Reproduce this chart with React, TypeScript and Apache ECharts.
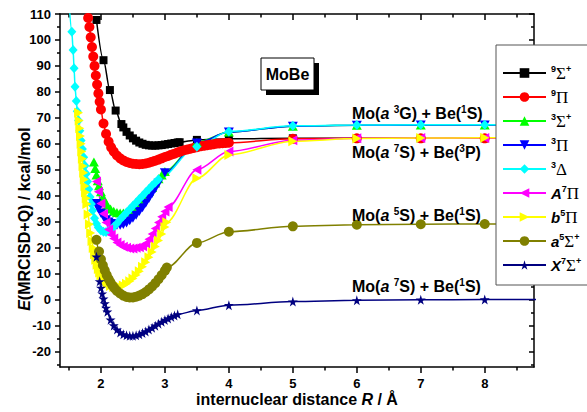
import React, { useEffect, useRef } from 'react';
import * as echarts from 'echarts';

const SANS = '"Liberation Sans", Arial, Helvetica, sans-serif';
const SERIF = '"Liberation Serif", "Times New Roman", serif';

const X_MIN = 1.36;
const X_MAX = 8.77;
const Y_MIN = -26;
const Y_MAX = 110;
const xMajorTicks = [2, 3, 4, 5, 6, 7, 8];
const xMinorTicks = [1.5, 2.5, 3.5, 4.5, 5.5, 6.5, 7.5, 8.5];
const yMajorTicks = [-20, -10, 0, 10, 20, 30, 40, 50, 60, 70, 80, 90, 100, 110];
const yMinorTicks = [-25, -15, -5, 5, 15, 25, 35, 45, 55, 65, 75, 85, 95, 105];

const stateNames = ['⁹Σ⁺', '⁹Π', '³Σ⁺', '³Π', '³Δ', 'A⁷Π', 'b⁵Π', 'a⁵Σ⁺', 'X⁷Σ⁺'];
const stateLabels = [
  '{s|9}{g|Σ}{s|+}',
  '{s|9}{g|Π}',
  '{s|3}{g|Σ}{s|+}',
  '{s|3}{g|Π}',
  '{s|3}{g|Δ}',
  '{i|A}{s|7}{g|Π}',
  '{i|b}{s|5}{g|Π}',
  '{i|a}{s|5}{g|Σ}{s|+}',
  '{i|X}{s|7}{g|Σ}{s|+}',
];
const stateColors = ['#000000', '#ff0000', '#00ff00', '#0000ff', '#00ffff', '#ff00ff', '#ffff00', '#808000', '#000080'];
const STAR = 'path://M50,0L61,35L98,35L68,57L79,91L50,70L21,91L32,57L2,35L39,35Z';
const stateSymbols = [
  'rect',
  'circle',
  'triangle',
  'path://M0,0L10,0L5,9Z',
  'diamond',
  'path://M9,0L9,10L0,5Z',
  'path://M0,0L9,5L0,10Z',
  'circle',
  STAR,
];
const stateSymbolSizes: any[] = [8, 10, [10, 9], [10, 9], [9, 10], [9, 10], [9, 10], 10, 10];

// R (Å), E (kcal/mol)
const sigma9: number[][] = [
  [1.93, 107.7], [2.04, 92.2], [2.14, 80.7], [2.23, 72.8], [2.32, 67.6], [2.35, 66.3], [2.40, 64.6], [2.45, 63.2],
  [2.50, 62.1], [2.55, 61.2], [2.60, 60.5], [2.65, 60.0], [2.70, 59.6], [2.75, 59.4], [2.80, 59.3], [2.85, 59.3],
  [2.90, 59.4], [2.95, 59.5], [3.00, 59.7], [3.05, 59.9], [3.10, 60.1], [3.15, 60.3], [3.20, 60.5], [3.23, 60.6],
  [3.50, 61.5], [4.00, 61.9], [5, 62.1], [6, 62.1], [7, 62.1], [8, 62.1], [9, 62.1],
];
const pi9: number[][] = [
  [1.78, 112], [1.80, 108.5], [1.82, 105], [1.84, 101], [1.86, 97.3], [1.88, 93.6], [1.90, 90], [1.92, 86.3],
  [1.94, 82.8], [1.96, 79.4], [1.98, 76.2], [2.00, 73.2], [2.04, 67.8], [2.08, 63.8], [2.12, 60.8], [2.16, 58.6],
  [2.20, 57.0], [2.25, 55.5], [2.30, 54.4], [2.35, 53.6], [2.40, 53.0], [2.45, 52.6], [2.50, 52.3], [2.55, 52.2],
  [2.60, 52.1], [2.65, 52.2], [2.70, 52.4], [2.75, 52.7], [2.80, 53.1], [2.85, 53.5], [2.90, 53.9], [2.95, 54.4],
  [3.00, 54.9], [3.05, 55.3], [3.10, 55.8], [3.15, 56.2], [3.20, 56.7], [3.25, 57.1], [3.30, 57.5], [3.35, 57.8],
  [3.40, 58.1], [3.45, 58.4], [3.50, 58.7], [3.55, 59.0], [3.60, 59.2], [3.65, 59.4], [3.70, 59.6], [3.75, 59.8],
  [3.80, 60.0], [3.85, 60.1], [3.90, 60.2], [3.95, 60.3], [4.00, 60.4], [5, 61.9], [6, 62.1], [7, 62.1], [8, 62.1], [9, 62.1],
];
const sigma3: number[][] = [
  [1.89, 53], [1.91, 50.5], [1.93, 48], [1.95, 45.8], [1.97, 43.8], [2.00, 41.5], [2.03, 39.5], [2.06, 37.9],
  [2.10, 36.3], [2.15, 34.9], [2.20, 34.0], [2.25, 33.5], [2.30, 33.3], [2.35, 33.3], [2.40, 33.6], [2.45, 34.2],
  [2.50, 35.0], [2.55, 36.0], [2.60, 37.2], [2.65, 38.5], [2.70, 40.0], [2.75, 41.6], [2.80, 43.2], [2.85, 44.9],
  [2.90, 46.5], [2.95, 48.0], [3.00, 49.3], [3.50, 60.5], [4.00, 64.5], [5, 66.8], [6, 67.1], [7, 67.2], [8, 67.2], [9, 67.2],
];
const pi3: number[][] = [
  [1.93, 37], [1.96, 35], [2.00, 33.2], [2.04, 31.8], [2.08, 30.7], [2.12, 29.9], [2.16, 29.3], [2.20, 28.9],
  [2.25, 28.6], [2.30, 28.6], [2.35, 28.9], [2.40, 29.5], [2.45, 30.3], [2.50, 31.3], [2.55, 32.5], [2.60, 33.9],
  [2.65, 35.4], [2.70, 37.1], [2.75, 38.9], [2.80, 40.8], [2.85, 42.8], [2.90, 44.8], [3.00, 48.8], [3.50, 60.3],
  [4.00, 64.5], [5, 66.8], [6, 67.1], [7, 67.2], [8, 67.2], [9, 67.2],
];
const delta3: number[][] = [
  [1.50, 115], [1.545, 103.2], [1.565, 96.1], [1.58, 89.1], [1.595, 82], [1.615, 76.5], [1.63, 72.5], [1.65, 69],
  [1.67, 65], [1.69, 61.3], [1.71, 58], [1.73, 54.8], [1.75, 51.5], [1.77, 48.5], [1.79, 45.5], [1.81, 42.5],
  [1.83, 39.5], [1.85, 36.8], [1.87, 34.3], [1.90, 31.3], [1.93, 29.2], [1.96, 27.7], [2.00, 26.6], [2.04, 26.1],
  [2.08, 26.0], [2.12, 26.4], [2.16, 27.1], [2.20, 28.0], [2.25, 29.3], [2.30, 30.8], [2.35, 32.2], [2.40, 33.5],
  [2.45, 34.8], [2.50, 36.1], [2.55, 37.4], [2.60, 38.7], [2.65, 40.0], [2.70, 41.3], [2.75, 42.6], [2.80, 43.9],
  [2.85, 45.1], [2.90, 46.3], [3.50, 58.9], [4.00, 64.7], [5, 66.9], [6, 67.2], [7, 67.3], [8, 67.3], [9, 67.3],
];
const A7Pi: number[][] = [
  [1.93, 45.5], [1.96, 41.5], [2.00, 37.0], [2.04, 33.0], [2.08, 29.7], [2.12, 27.0], [2.16, 25.0], [2.20, 23.5],
  [2.25, 22.0], [2.30, 21.0], [2.35, 20.3], [2.40, 19.9], [2.45, 19.7], [2.50, 19.7], [2.55, 19.9], [2.60, 20.1],
  [2.65, 20.5], [2.70, 21.6], [2.75, 23.2], [2.80, 25.2], [2.85, 27.4], [2.90, 29.7], [2.95, 31.9], [3.00, 33.9],
  [3.05, 35.6], [3.50, 50.0], [4.00, 57.0], [5, 61.4], [6, 62.1], [7, 62.2], [8, 62.2], [9, 62.2],
];
const b5Pi: number[][] = [
  [1.65, 72], [1.66, 69], [1.67, 66], [1.68, 63], [1.69, 60], [1.70, 57], [1.71, 54.2], [1.72, 51.4],
  [1.73, 48.8], [1.74, 46.2], [1.75, 43.7], [1.76, 41.3], [1.77, 39], [1.78, 36.8], [1.80, 32.8], [1.82, 29],
  [1.84, 25.6], [1.86, 22.5], [1.88, 19.8], [1.90, 17.4], [1.92, 15.3], [1.94, 13.4], [1.96, 11.8], [1.98, 10.4],
  [2.00, 9.3], [2.03, 8.0], [2.06, 7.0], [2.10, 6.0], [2.15, 5.2], [2.20, 4.8], [2.25, 4.7], [2.30, 4.9],
  [2.35, 5.4], [2.40, 6.1], [2.45, 7.0], [2.50, 8.1], [2.55, 9.4], [2.60, 10.9], [2.65, 12.6], [2.70, 14.4],
  [2.75, 16.3], [2.80, 18.3], [2.85, 20.4], [2.90, 22.7], [2.95, 25.2], [3.00, 27.9], [3.03, 29.8], [3.50, 46.7],
  [4.00, 55.7], [5, 61.0], [6, 62.0], [7, 62.2], [8, 62.3], [9, 62.3],
];
const a5Sigma: number[][] = [
  [1.93, 23], [1.97, 18.5], [2.00, 15.5], [2.03, 13.2], [2.06, 11.2], [2.09, 9.4], [2.12, 7.9], [2.15, 6.6],
  [2.18, 5.4], [2.21, 4.4], [2.25, 3.3], [2.30, 2.3], [2.35, 1.5], [2.40, 1.0], [2.45, 0.8], [2.50, 0.8],
  [2.55, 1.1], [2.60, 1.5], [2.65, 2.1], [2.70, 2.9], [2.75, 3.9], [2.80, 5.0], [2.85, 6.3], [2.90, 7.8],
  [2.95, 9.4], [3.00, 11.1], [3.03, 12.3], [3.50, 21.8], [4.00, 26.1], [5, 28.2], [6, 28.8], [7, 29.0], [8, 29.1], [9, 29.1],
];
const X7Sigma: number[][] = [
  [1.93, 16.5], [1.98, 7.0], [2.00, 4.5], [2.02, 2.3], [2.04, 0.3], [2.06, -1.5], [2.08, -3.2], [2.10, -4.7],
  [2.15, -7.8], [2.20, -10.0], [2.25, -11.6], [2.30, -12.7], [2.35, -13.4], [2.40, -13.8], [2.45, -14.0], [2.50, -14.0],
  [2.55, -13.8], [2.60, -13.4], [2.65, -12.9], [2.70, -12.3], [2.75, -11.6], [2.80, -10.9], [2.85, -10.1], [2.90, -9.3],
  [2.95, -8.6], [3.00, -7.9], [3.05, -7.3], [3.10, -6.7], [3.15, -6.2], [3.20, -5.7], [3.50, -4.2], [4.00, -2.2],
  [5, -0.8], [6, -0.3], [7, -0.1], [8, 0], [9, 0],
];
const stateData = [sigma9, pi9, sigma3, pi3, delta3, A7Pi, b5Pi, a5Sigma, X7Sigma];

const asymptoteLabels = [
  '{b|Mo(}{bi|a}{b| }{s|3}{b|G) + Be(}{s|1}{b|S)}',
  '{b|Mo(}{bi|a}{b| }{s|7}{b|S) + Be(}{s|3}{b|P)}',
  '{b|Mo(}{bi|a}{b| }{s|5}{b|S) + Be(}{s|1}{b|S)}',
  '{b|Mo(}{bi|a}{b| }{s|7}{b|S) + Be(}{s|1}{b|S)}',
];
const asymptoteLabelY = [113, 152, 215, 286];

const textRich = {
  b: { fontFamily: SANS, fontWeight: 'bold', fontSize: 16, lineHeight: 18, color: '#000' },
  bi: { fontFamily: SANS, fontWeight: 'bold', fontStyle: 'italic', fontSize: 16, lineHeight: 18, color: '#000' },
  s: { fontFamily: SANS, fontWeight: 'bold', fontSize: 10, lineHeight: 10, verticalAlign: 'top', color: '#000' },
};
const xTitleRich = {
  b: { fontFamily: SANS, fontWeight: 'bold', fontSize: 16, lineHeight: 14, color: '#000' },
  bi: { fontFamily: SANS, fontWeight: 'bold', fontStyle: 'italic', fontSize: 16, lineHeight: 14, color: '#000' },
};
const yTitleRich = {
  b: { fontFamily: SANS, fontWeight: 'bold', fontSize: 16, lineHeight: 18, color: '#000' },
  bi: { fontFamily: SANS, fontWeight: 'bold', fontStyle: 'italic', fontSize: 16, lineHeight: 18, color: '#000' },
};

export default function App() {
  const ref = useRef<HTMLDivElement>(null);
  useEffect(() => {
    document.body.style.margin = '0';
    const chart = echarts.init(ref.current!, null, { renderer: 'svg' });
    const axisLineStyle = { color: '#000', width: 1.5 };
    const xBase = { type: 'value', min: X_MIN, max: X_MAX, splitLine: { show: false } };
    const yBase = { type: 'value', min: Y_MIN, max: Y_MAX, splitLine: { show: false } };
    const tickLabel = { fontFamily: SANS, fontWeight: 'bold', fontSize: 13, color: '#000' };
    const option: any = {
      animation: false,
      backgroundColor: '#ffffff',
      grid: { left: 60, right: 53, top: 14, bottom: 45, containLabel: false, outerBoundsMode: 'none' },
      xAxis: [
        { ...xBase, position: 'bottom', axisLine: { show: true, onZero: false, lineStyle: axisLineStyle },
          axisTick: { show: true, inside: false, length: 6, customValues: xMajorTicks, lineStyle: axisLineStyle },
          axisLabel: { ...tickLabel, lineHeight: 12, margin: 10, customValues: xMajorTicks } },
        { ...xBase, position: 'bottom', axisLine: { show: false, onZero: false },
          axisTick: { show: true, inside: false, length: 3.5, customValues: xMinorTicks, lineStyle: axisLineStyle },
          axisLabel: { show: false } },
        { ...xBase, position: 'top', axisLine: { show: true, onZero: false, lineStyle: axisLineStyle },
          axisTick: { show: true, inside: true, length: 6, customValues: xMajorTicks, lineStyle: axisLineStyle },
          axisLabel: { show: false } },
        { ...xBase, position: 'top', axisLine: { show: false, onZero: false },
          axisTick: { show: true, inside: true, length: 3.5, customValues: xMinorTicks, lineStyle: axisLineStyle },
          axisLabel: { show: false } },
      ],
      yAxis: [
        { ...yBase, position: 'left', axisLine: { show: true, onZero: false, lineStyle: axisLineStyle },
          axisTick: { show: true, inside: false, length: 5, customValues: yMajorTicks, lineStyle: axisLineStyle },
          axisLabel: { ...tickLabel, margin: 9, customValues: yMajorTicks } },
        { ...yBase, position: 'left', axisLine: { show: false, onZero: false },
          axisTick: { show: true, inside: false, length: 3, customValues: yMinorTicks, lineStyle: axisLineStyle },
          axisLabel: { show: false } },
        { ...yBase, position: 'right', axisLine: { show: true, onZero: false, lineStyle: axisLineStyle },
          axisTick: { show: true, inside: true, length: 5, customValues: yMajorTicks, lineStyle: axisLineStyle },
          axisLabel: { show: false } },
        { ...yBase, position: 'right', axisLine: { show: false, onZero: false },
          axisTick: { show: true, inside: true, length: 3, customValues: yMinorTicks, lineStyle: axisLineStyle },
          axisLabel: { show: false } },
      ],
      legend: {
        orient: 'vertical',
        left: 502,
        top: 64,
        padding: 0,
        itemWidth: 43,
        itemHeight: 12,
        itemGap: 6,
        selectedMode: false,
        z: 20,
        data: stateNames,
        formatter: (name: string) => stateLabels[stateNames.indexOf(name)],
        textStyle: {
          color: '#000',
          fontSize: 14,
          lineHeight: 18,
          rich: {
            s: { fontFamily: SANS, fontWeight: 'bold', fontSize: 9, lineHeight: 10, verticalAlign: 'top', color: '#000' },
            g: { fontFamily: SERIF, fontSize: 17, lineHeight: 18, color: '#000' },
            i: { fontFamily: SANS, fontWeight: 'bold', fontStyle: 'italic', fontSize: 15, lineHeight: 18, color: '#000' },
          },
        },
      },
      graphic: [
        { type: 'rect', z: 10, shape: { x: 496, y: 45, width: 110, height: 240 }, style: { fill: '#fff', stroke: '#555', lineWidth: 1 } },
        { type: 'rect', z: 10, shape: { x: 266, y: 63, width: 53, height: 32 }, style: { fill: '#000' } },
        { type: 'rect', z: 11, shape: { x: 261, y: 58, width: 53, height: 32 }, style: { fill: '#fff', stroke: '#000', lineWidth: 1 } },
        { type: 'text', z: 12, x: 287.5, y: 74, style: { text: 'MoBe', fontFamily: SANS, fontWeight: 'bold', fontSize: 16, fill: '#000',
          align: 'center', verticalAlign: 'middle', textAlign: 'center', textVerticalAlign: 'middle' } },
        ...asymptoteLabels.map((t, i) => ({
          type: 'text', z: 12, x: 352, y: asymptoteLabelY[i],
          style: { text: t, rich: textRich, align: 'left', verticalAlign: 'middle', textAlign: 'left', textVerticalAlign: 'middle' },
        })),
        { type: 'text', z: 12, x: 297, y: 399.5,
          style: { text: '{b|internuclear distance }{bi|R}{b| / Å}', rich: xTitleRich, align: 'center', verticalAlign: 'middle', textAlign: 'center', textVerticalAlign: 'middle' } },
        { type: 'text', z: 12, x: 24, y: 219, rotation: Math.PI / 2,
          style: { text: '{bi|E}{b|(MRCISD+Q) / kcal/mol}', rich: yTitleRich, align: 'center', verticalAlign: 'middle', textAlign: 'center', textVerticalAlign: 'middle' } },
      ],
      series: stateNames.map((name, i) => ({
        type: 'line',
        name,
        data: stateData[i],
        xAxisIndex: 0,
        yAxisIndex: 0,
        symbol: stateSymbols[i],
        symbolSize: stateSymbolSizes[i],
        showSymbol: true,
        smooth: 0.3,
        smoothMonotone: 'x',
        clip: true,
        silent: true,
        lineStyle: { color: stateColors[i], width: 1.5 },
        itemStyle: { color: stateColors[i] },
        emphasis: { disabled: true },
        z: 2,
      })),
    };
    chart.setOption(option);
    return () => chart.dispose();
  }, []);
  return <div ref={ref} style={{ position: 'fixed', left: 0, top: 0, width: 587, height: 412 }} />;
}
